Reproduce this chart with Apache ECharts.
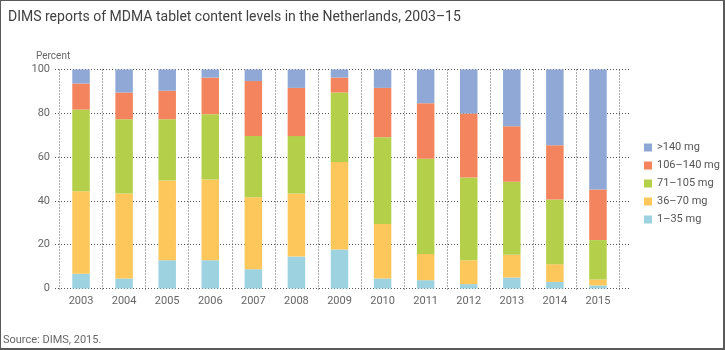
<!DOCTYPE html>
<html>
<head>
<meta charset="utf-8">
<script src="https://cdn.jsdelivr.net/npm/echarts@6/dist/echarts.min.js"></script>
<style>
html,body{margin:0;padding:0;background:#fff;}
#frame{width:725px;height:350px;box-sizing:border-box;border:1px solid #5a5a5a;border-right-width:2px;border-bottom-width:2px;position:relative;}
#chart{position:absolute;left:-1px;top:-1px;width:725px;height:350px;}
</style>
</head>
<body>
<div id="frame"><div id="chart"></div></div>
<script>
const years = ['2003','2004','2005','2006','2007','2008','2009','2010','2011','2012','2013','2014','2015'];
const seriesNames = ['1–35 mg','36–70 mg','71–105 mg','106–140 mg','>140 mg'];
const mg1_35    = [6.7, 4.6, 12.9, 12.9, 8.8, 14.6, 17.8, 4.6, 3.8, 2.0, 5.0, 3.0, 1.4];
const mg36_70   = [37.7, 38.8, 36.4, 36.9, 32.9, 28.8, 40.0, 24.8, 12.0, 10.9, 10.4, 8.1, 2.7];
const mg71_105  = [37.3, 33.9, 28.0, 29.8, 27.9, 26.2, 31.7, 39.7, 43.4, 37.8, 33.3, 29.5, 18.0];
const mg106_140 = [11.9, 12.2, 13.0, 16.7, 25.1, 22.0, 6.8, 22.5, 25.4, 29.2, 25.4, 24.8, 23.1];
const mgOver140 = [6.4, 10.5, 9.7, 3.7, 5.3, 8.4, 3.7, 8.4, 15.4, 20.1, 25.9, 34.6, 54.8];
const yTicks = [0, 20, 40, 60, 80, 100];

const colors = ['#9dd2e0', '#fdc75c', '#b4cf4a', '#f4845e', '#8fa8d6'];
const values = [mg1_35, mg36_70, mg71_105, mg106_140, mgOver140];
const font = 'Roboto, "Liberation Sans", sans-serif';
const gridLine = { color: '#555', type: [1, 2], width: 1 };

const chart = echarts.init(document.getElementById('chart'), null, { renderer: 'canvas' });
chart.setOption({
  animation: false,
  textStyle: { fontFamily: font },
  title: {
    text: 'DIMS reports of MDMA tablet content levels in the Netherlands, 2003–15',
    left: 3, top: 5,
    textStyle: { fontFamily: font, fontSize: 14, fontWeight: 'normal', color: '#404040' }
  },
  legend: {
    orient: 'vertical', left: 639, top: 137,
    data: ['>140 mg','106–140 mg','71–105 mg','36–70 mg','1–35 mg'],
    icon: 'rect', itemWidth: 8, itemHeight: 8, itemGap: 7, itemTextGap: 6,
    textStyle: { fontFamily: font, fontSize: 11, color: '#555', lineHeight: 11 }
  },
  graphic: [
    { type: 'text', left: 36, top: 51, style: { text: 'Percent', fontFamily: font, fontSize: 10, fill: '#666' } },
    { type: 'text', left: 3, top: 335, style: { text: 'Source: DIMS, 2015.', fontFamily: font, fontSize: 11, fill: '#666' } }
  ],
  grid: [
    { left: 59.5, right: 105.5, top: 69.5, bottom: 61.5 },
    { left: 55, right: 94, top: 69.5, bottom: 61.5 }
  ],
  xAxis: [
    { type: 'category', gridIndex: 0, data: years,
      axisLine: { show: false },
      axisTick: { show: true, length: 3, interval: 0, lineStyle: gridLine },
      splitLine: { show: true, interval: 0, lineStyle: gridLine },
      axisLabel: { color: '#666', fontSize: 11, margin: 7, fontFamily: font }
    },
    { type: 'value', gridIndex: 1, show: false, min: 0, max: 1 }
  ],
  yAxis: [
    { type: 'value', gridIndex: 0, min: 0, max: 100, interval: 20, show: false, splitLine: { show: false } },
    { type: 'value', gridIndex: 1, min: 0, max: 100, interval: 20,
      axisLine: { show: false }, axisTick: { show: false },
      splitLine: { show: true, lineStyle: gridLine },
      axisLabel: { color: '#666', fontSize: 11, margin: 5, fontFamily: font,
        formatter: v => yTicks.includes(v) ? String(v) : '' }
    }
  ],
  series: seriesNames.map((n, i) => ({
    name: n, type: 'bar', stack: 'total', xAxisIndex: 0, yAxisIndex: 0,
    barWidth: 17.5, data: values[i], itemStyle: { color: colors[i] }
  }))
});
</script>
</body>
</html>
